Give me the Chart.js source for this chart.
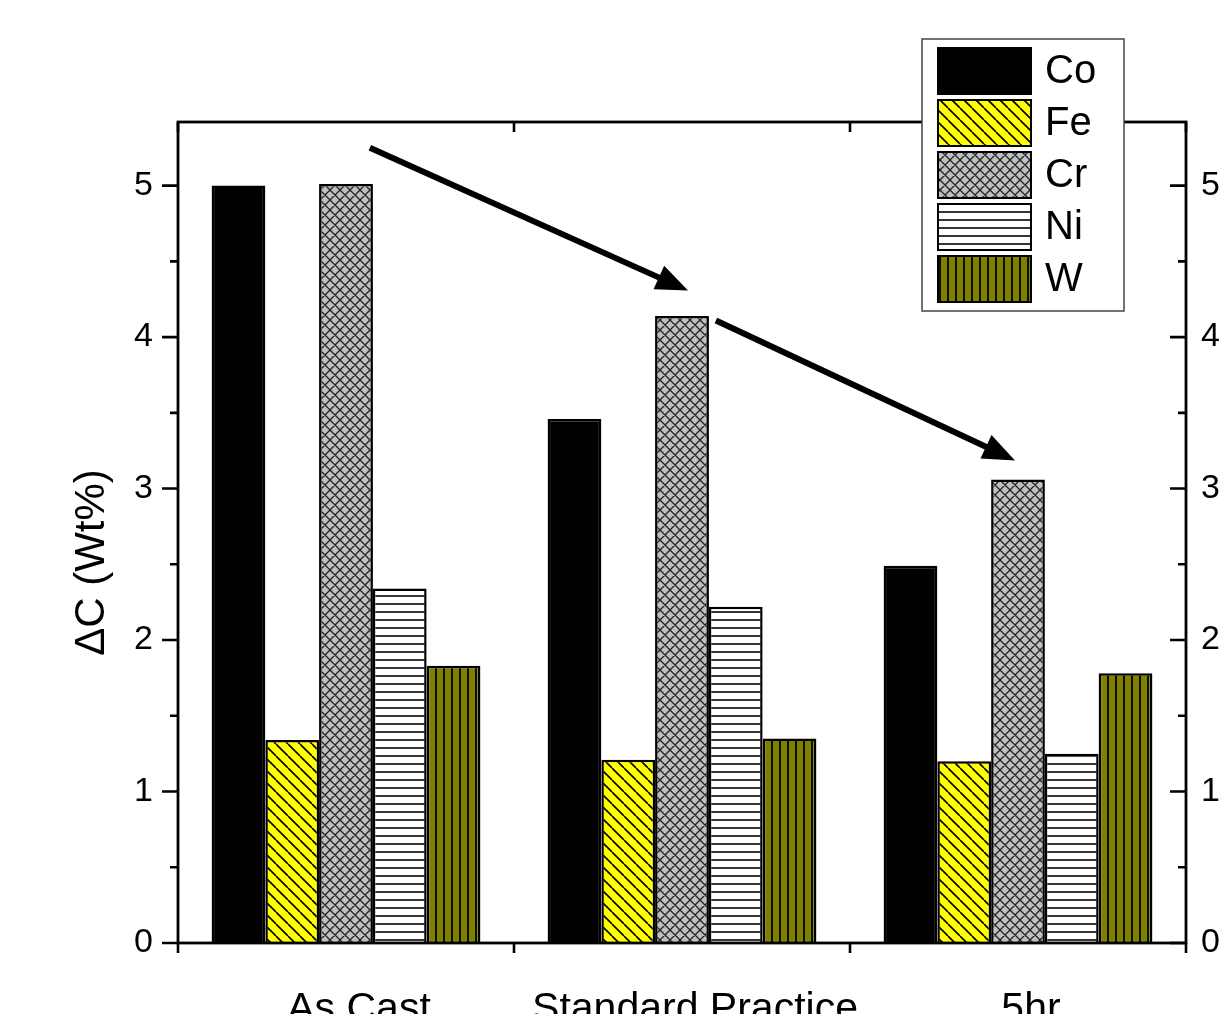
<!DOCTYPE html>
<html><head><meta charset="utf-8">
<script src="https://cdn.jsdelivr.net/npm/chart.js@4.4.1/dist/chart.umd.min.js"></script>
<style>html,body{margin:0;padding:0;background:#fff;overflow:hidden}
#wrap{position:relative;width:1229px;height:1014px}</style>
</head><body><div id="wrap"><canvas id="c" width="1229" height="1014"></canvas></div>
<script>
const categories = ['As Cast', 'Standard Practice', '5hr'];
const seriesNames = ['Co', 'Fe', 'Cr', 'Ni', 'W'];
const coValues = [5.00, 3.46, 2.49];
const feValues = [1.34, 1.21, 1.20];
const crValues = [5.01, 4.14, 3.06];
const niValues = [2.34, 2.22, 1.25];
const wValues  = [1.83, 1.35, 1.78];
const yTickLabels = ['0', '1', '2', '3', '4', '5'];
const yAxisTitle = 'ΔC (Wt%)';
const yMin = 0, yMax = 5.42, yMinorStep = 0.5;
// annotation arrows in data coordinates: [category index, value]
const arrow1 = [[0.071, 5.25], [1.018, 4.307]];
const arrow2 = [[1.101, 4.11], [1.991, 3.186]];

const FONT = "'Liberation Sans', Arial, sans-serif";
const canvas = document.getElementById('c');
const ctx = canvas.getContext('2d');

function makePattern(bg, draw, w, h) {
  const t = document.createElement('canvas'); t.width = w; t.height = h;
  const x = t.getContext('2d');
  x.fillStyle = bg; x.fillRect(0, 0, w, h);
  x.strokeStyle = '#000';
  draw(x, w, h);
  return ctx.createPattern(t, 'repeat');
}
const fills = {
  Co: '#000000',
  Fe: makePattern('#ffff00', (x, w, h) => {
    x.lineWidth = 1.6; x.beginPath();
    for (const o of [-w, 0, w]) { x.moveTo(o, 0); x.lineTo(o + w, h); }
    x.stroke();
  }, 12, 12),
  Cr: makePattern('#c0c0c0', (x, w, h) => {
    x.strokeStyle = '#222'; x.lineWidth = 1.3; x.beginPath();
    for (const o of [-w, 0, w]) { x.moveTo(o, 0); x.lineTo(o + w, h); x.moveTo(o + w, 0); x.lineTo(o, h); }
    x.stroke();
  }, 10, 10),
  Ni: makePattern('#ffffff', (x, w, h) => {
    x.lineWidth = 1.6; x.beginPath(); x.moveTo(0, h / 2); x.lineTo(w, h / 2); x.stroke();
  }, 8, 8),
  W: makePattern('#808000', (x, w, h) => {
    x.lineWidth = 1.8; x.beginPath(); x.moveTo(w / 2, 0); x.lineTo(w / 2, h); x.stroke();
  }, 8, 8)
};
const seriesValues = [coValues, feValues, crValues, niValues, wValues];

const datasets = seriesNames.map((n, i) => ({
  label: n,
  data: seriesValues[i],
  backgroundColor: fills[n],
  borderColor: '#000',
  borderWidth: 2.5,
  categoryPercentage: 0.8,
  barPercentage: 1.0
}));

function drawArrow(c, x1, y1, x2, y2) {
  const ang = Math.atan2(y2 - y1, x2 - x1);
  const hl = 32, hw = 13;
  const bx = x2 - hl * Math.cos(ang), by = y2 - hl * Math.sin(ang);
  c.strokeStyle = '#000'; c.fillStyle = '#000'; c.lineWidth = 6; c.lineCap = 'butt';
  c.beginPath(); c.moveTo(x1, y1); c.lineTo(bx + 4 * Math.cos(ang), by + 4 * Math.sin(ang)); c.stroke();
  c.beginPath();
  c.moveTo(x2, y2);
  c.lineTo(bx + hw * Math.sin(ang), by - hw * Math.cos(ang));
  c.lineTo(bx - hw * Math.sin(ang), by + hw * Math.cos(ang));
  c.closePath(); c.fill();
}

const decor = {
  id: 'decor',
  afterDraw(chart) {
    const c = chart.ctx, a = chart.chartArea;
    const xs = chart.scales.x, ys = chart.scales.y;
    c.save();
    // frame
    c.strokeStyle = '#000'; c.lineWidth = 2.8;
    c.strokeRect(a.left, a.top, a.right - a.left, a.bottom - a.top);
    // y ticks (left outward, right inward)
    c.lineWidth = 2.6;
    c.beginPath();
    for (let v = yMin; v <= yMax + 1e-9; v += yMinorStep) {
      const y = ys.getPixelForValue(v);
      const major = Math.abs(v - Math.round(v)) < 1e-9;
      const len = major ? 16 : 8;
      c.moveTo(a.left - len, y); c.lineTo(a.left, y);
      c.moveTo(a.right, y); c.lineTo(a.right - len, y);
    }
    // x ticks at category boundaries
    for (let i = 0; i <= categories.length; i++) {
      const x = xs.getPixelForValue(i - 0.5);
      c.moveTo(x, a.bottom); c.lineTo(x, a.bottom + 10);
      c.moveTo(x, a.top); c.lineTo(x, a.top + 10);
    }
    c.stroke();
    // arrows
    for (const ar of [arrow1, arrow2]) {
      drawArrow(c, xs.getPixelForValue(ar[0][0]), ys.getPixelForValue(ar[0][1]),
                   xs.getPixelForValue(ar[1][0]), ys.getPixelForValue(ar[1][1]));
    }
    // y title
    c.save();
    c.translate(92, (a.top + a.bottom) / 2 + 30);
    c.rotate(-Math.PI / 2);
    c.font = '42px ' + FONT; c.fillStyle = '#000';
    c.textAlign = 'center'; c.textBaseline = 'middle';
    c.fillText(yAxisTitle, 0, 0);
    c.restore();
    // legend
    const lx = 922, ly = 39, lw = 202, lh = 272;
    c.fillStyle = '#fff'; c.fillRect(lx, ly, lw, lh);
    c.strokeStyle = '#444'; c.lineWidth = 1.5; c.strokeRect(lx, ly, lw, lh);
    c.font = '40px ' + FONT; c.textAlign = 'left'; c.textBaseline = 'middle';
    chart.data.datasets.forEach((d, i) => {
      const sy = ly + 9 + i * 52;
      c.fillStyle = d.backgroundColor; c.fillRect(938, sy, 93, 46);
      c.strokeStyle = '#000'; c.lineWidth = 2; c.strokeRect(938, sy, 93, 46);
      c.fillStyle = '#000'; c.fillText(d.label, 1045, sy + 24);
    });
    c.restore();
  }
};

new Chart(canvas, {
  type: 'bar',
  data: { labels: categories, datasets },
  options: {
    responsive: false,
    animation: false,
    devicePixelRatio: 1,
    layout: { padding: { top: 122, left: 0, right: 0, bottom: 0 } },
    plugins: { legend: { display: false }, tooltip: { enabled: false } },
    scales: {
      x: {
        type: 'category', position: 'bottom', offset: true,
        grid: { display: false, drawTicks: false }, border: { display: false },
        ticks: { font: { family: FONT, size: 41 }, color: '#000', padding: 42, labelOffset: 13,
                 maxRotation: 0, minRotation: 0, autoSkip: false },
        afterFit(s) { s.height = 71; }
      },
      y: {
        position: 'left', min: yMin, max: yMax,
        grid: { display: false, drawTicks: false }, border: { display: false },
        ticks: { stepSize: 1, font: { family: FONT, size: 34 }, color: '#000', padding: 25,
                 callback: v => yTickLabels.includes(String(v)) ? String(v) : '' },
        afterFit(s) { s.width = 178; }
      },
      y2: {
        position: 'right', min: yMin, max: yMax,
        grid: { display: false, drawTicks: false }, border: { display: false },
        ticks: { stepSize: 1, font: { family: FONT, size: 34 }, color: '#000', padding: 15,
                 callback: v => yTickLabels.includes(String(v)) ? String(v) : '' },
        afterFit(s) { s.width = 43; }
      }
    }
  },
  plugins: [decor]
});
</script></body></html>
